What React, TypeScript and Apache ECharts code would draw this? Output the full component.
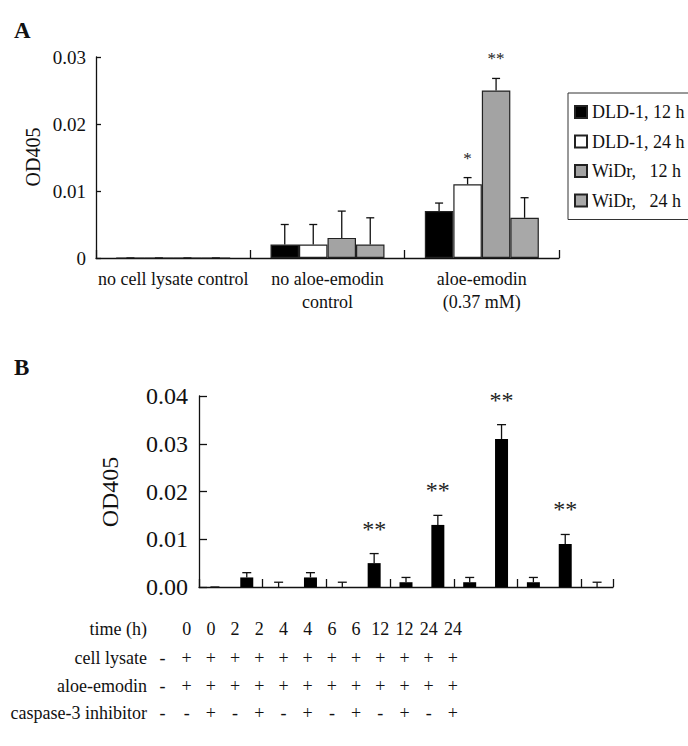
import React, { useEffect, useRef } from 'react';
import * as echarts from 'echarts';

// ---------- Panel A data ----------
const categoriesA = ['no cell lysate control', 'no aloe-emodin\ncontrol', 'aloe-emodin\n(0.37 mM)'];
const seriesNamesA = ['DLD-1, 12 h', 'DLD-1, 24 h', 'WiDr,   12 h', 'WiDr,   24 h'];
const dld12 = [0, 0.002, 0.007];
const dld12Err = [0, 0.003, 0.0012];
const dld24 = [0, 0.002, 0.011];
const dld24Err = [0, 0.003, 0.001];
const widr12 = [0, 0.003, 0.025];
const widr12Err = [0, 0.004, 0.0018];
const widr24 = [0, 0.002, 0.006];
const widr24Err = [0, 0.004, 0.003];
const starsDld12 = ['', '', ''];
const starsDld24 = ['', '', '*'];
const starsWidr12 = ['', '', '**'];
const starsWidr24 = ['', '', ''];
const ticksA = [0, 0.01, 0.02, 0.03];

// ---------- Panel B data ----------
const categoriesB = ['ctrl', '0 h', '0 h inh', '2 h', '2 h inh', '4 h', '4 h inh', '6 h', '6 h inh', '12 h', '12 h inh', '24 h', '24 h inh'];
const valuesB = [0, 0.002, 0, 0.002, 0, 0.005, 0.001, 0.013, 0.001, 0.031, 0.001, 0.009, 0];
const errB = [0, 0.001, 0.001, 0.001, 0.001, 0.002, 0.001, 0.002, 0.001, 0.003, 0.001, 0.002, 0.001];
const starsB = ['', '', '', '', '', '**', '', '**', '', '**', '', '**', ''];
const ticksB = [0, 0.01, 0.02, 0.03, 0.04];

// ---------- Panel B table ----------
const rowLabels = ['time (h)', 'cell lysate', 'aloe-emodin', 'caspase-3 inhibitor'];
const timeRow = ['', '0', '0', '2', '2', '4', '4', '6', '6', '12', '12', '24', '24'];
const lysateRow = ['-', '+', '+', '+', '+', '+', '+', '+', '+', '+', '+', '+', '+'];
const aloeRow = ['-', '+', '+', '+', '+', '+', '+', '+', '+', '+', '+', '+', '+'];
const inhibitorRow = ['-', '-', '+', '-', '+', '-', '+', '-', '+', '-', '+', '-', '+'];

const FAMILY = '"Liberation Serif", "Times New Roman", serif';
const INK = '#111';
const font = (size: number, weight = 'normal') => `${weight} ${size}px ${FAMILY}`;

function errorSeries(
  gridIdx: number,
  values: number[],
  errs: number[],
  stars: string[],
  offset: number,
  capW: number,
  starSize: number,
  starGap: number
) {
  return {
    type: 'custom',
    xAxisIndex: gridIdx,
    yAxisIndex: gridIdx,
    z: 5,
    silent: true,
    data: values.map((v, i) => [i, v, v + errs[i]]),
    renderItem: (params: any, api: any) => {
      const i = params.dataIndex;
      const base = api.coord([api.value(0), api.value(1)]);
      const top = api.coord([api.value(0), api.value(2)]);
      const x = base[0] + offset;
      const lineStyle = { stroke: INK, lineWidth: 1.3, fill: null };
      const children: any[] = [
        { type: 'line', shape: { x1: x, y1: base[1], x2: x, y2: top[1] }, style: lineStyle },
        { type: 'line', shape: { x1: x - capW / 2, y1: top[1], x2: x + capW / 2, y2: top[1] }, style: lineStyle },
      ];
      if (stars[i]) {
        children.push({
          type: 'text',
          x,
          y: top[1] - starGap,
          style: {
            text: stars[i],
            fill: '#222',
            font: font(starSize),
            align: 'center',
            textAlign: 'center',
            verticalAlign: 'bottom',
            textVerticalAlign: 'bottom',
          },
        });
      }
      return { type: 'group', children };
    },
  };
}

function label(text: string, x: number, y: number, size: number, align: string, extra: any = {}) {
  return {
    type: 'text',
    x,
    y,
    ...extra,
    style: {
      text,
      fill: INK,
      font: font(size, extra.weight || 'normal'),
      textAlign: align,
      align,
      textVerticalAlign: 'middle',
      verticalAlign: 'middle',
    },
  };
}

export default function App() {
  const ref = useRef<HTMLDivElement>(null);

  useEffect(() => {
    if (!ref.current) return;
    const chart = echarts.init(ref.current, undefined, { renderer: 'svg' });

    const barW = 28.5;
    const seriesA = [
      { name: seriesNamesA[0], data: dld12, color: '#000000' },
      { name: seriesNamesA[1], data: dld24, color: '#ffffff' },
      { name: seriesNamesA[2], data: widr12, color: '#a3a3a3' },
      { name: seriesNamesA[3], data: widr24, color: '#a8a8a8' },
    ];
    const errsA = [dld12Err, dld24Err, widr12Err, widr24Err];
    const starsA = [starsDld12, starsDld24, starsWidr12, starsWidr24];

    const axisLine = { show: true, lineStyle: { color: INK, width: 1.3 } };

    // table graphics
    const colX0 = 162.5;
    const colStep = 24.2;
    const rowY = [629, 658, 686, 713];
    const rows = [timeRow, lysateRow, aloeRow, inhibitorRow];
    const tableTexts: any[] = [];
    rowLabels.forEach((lab, r) => {
      tableTexts.push(label(lab, 147, rowY[r], 18, 'right'));
      rows[r].forEach((t, c) => {
        if (!t) return;
        tableTexts.push(label(t, colX0 + c * colStep, rowY[r], 18, 'center'));
      });
    });

    const option: any = {
      animation: false,
      backgroundColor: '#ffffff',
      textStyle: { fontFamily: FAMILY },
      grid: [
        { left: 96, top: 57, width: 463, height: 201 },
        { left: 199, top: 396, width: 414, height: 191 },
      ],
      legend: {
        data: seriesNamesA,
        orient: 'vertical',
        left: 568,
        top: 93,
        padding: [10, 24, 10, 6],
        itemGap: 11.5,
        itemWidth: 12,
        itemHeight: 12,
        itemTextGap: 4,
        icon: 'rect',
        borderColor: '#333',
        borderWidth: 1,
        backgroundColor: '#fff',
        selectedMode: false,
        textStyle: { fontSize: 18, fontFamily: FAMILY, color: INK, lineHeight: 18 },
      },
      xAxis: [
        {
          type: 'category',
          gridIndex: 0,
          data: categoriesA,
          axisLine,
          axisTick: { show: true, inside: true, length: 8, lineStyle: { color: INK, width: 1.3 } },
          axisLabel: { interval: 0, fontSize: 18, fontFamily: FAMILY, color: INK, margin: 9, lineHeight: 23 },
          splitLine: { show: false },
        },
        {
          type: 'category',
          gridIndex: 1,
          data: categoriesB,
          axisLine,
          axisTick: { show: true, inside: true, length: 8, lineStyle: { color: INK, width: 1.3 } },
          axisLabel: { show: false },
          splitLine: { show: false },
        },
      ],
      yAxis: [
        {
          type: 'value',
          gridIndex: 0,
          min: ticksA[0],
          max: ticksA[ticksA.length - 1],
          interval: 0.01,
          axisLine,
          axisTick: { show: true, inside: true, length: 5, lineStyle: { color: INK, width: 1.3 } },
          axisLabel: {
            fontSize: 19,
            fontFamily: FAMILY,
            color: INK,
            margin: 10,
            formatter: (v: number) => (v === 0 ? '0' : v.toFixed(2)),
          },
          splitLine: { show: false },
        },
        {
          type: 'value',
          gridIndex: 1,
          min: ticksB[0],
          max: ticksB[ticksB.length - 1],
          interval: 0.01,
          axisLine,
          axisTick: { show: true, inside: true, length: 8, lineStyle: { color: INK, width: 1.3 } },
          axisLabel: {
            fontSize: 24,
            fontFamily: FAMILY,
            color: INK,
            margin: 11,
            formatter: (v: number) => v.toFixed(2),
          },
          splitLine: { show: false },
        },
      ],
      series: [
        ...seriesA.map((s) => ({
          type: 'bar',
          name: s.name,
          xAxisIndex: 0,
          yAxisIndex: 0,
          data: s.data,
          barWidth: barW,
          barGap: '0%',
          itemStyle: { color: s.color, borderColor: '#222', borderWidth: 1.2 },
        })),
        ...seriesA.map((s, k) =>
          errorSeries(0, s.data, errsA[k], starsA[k], (k - 1.5) * barW, 8, 17, 11)
        ),
        {
          type: 'bar',
          name: 'B',
          xAxisIndex: 1,
          yAxisIndex: 1,
          data: valuesB,
          barWidth: 13,
          itemStyle: { color: '#000' },
        },
        errorSeries(1, valuesB, errB, starsB, 0, 9, 24, 13),
      ],
      graphic: [
        label('A', 14, 30, 23, 'left', { weight: 'bold' }),
        label('B', 14, 367, 23, 'left', { weight: 'bold' }),
        label('OD405', 33, 157, 20, 'center', { rotation: Math.PI / 2 }),
        label('OD405', 110, 492, 24, 'center', { rotation: Math.PI / 2 }),
        ...tableTexts,
      ],
    };

    chart.setOption(option);
    return () => chart.dispose();
  }, []);

  return (
    <div
      ref={ref}
      style={{ position: 'fixed', left: 0, top: 0, width: 688, height: 746, background: '#fff' }}
    />
  );
}
